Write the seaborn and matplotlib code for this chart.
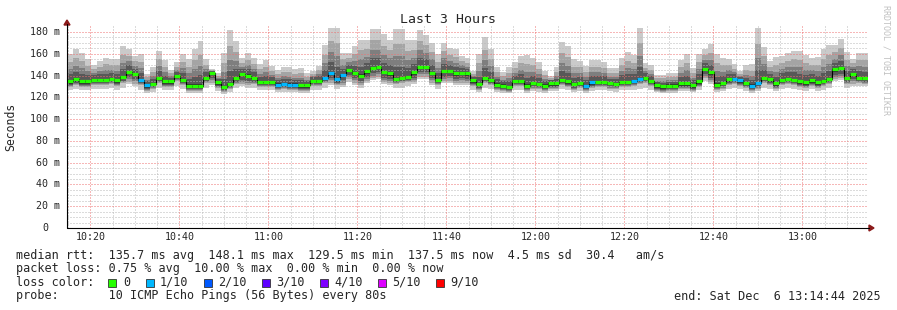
import numpy as np
import matplotlib
matplotlib.use("Agg")
import matplotlib.pyplot as plt
import seaborn as sns
import pandas as pd
from matplotlib.patches import Rectangle, Polygon
from matplotlib.lines import Line2D

# ---------------- data ----------------
STEP_S = 80  # one RRD step = 80 s
START = "10:14:44"

median = [134.6, 136.5, 134.6, 134.6, 136.0, 136.0, 136.0, 137.0, 135.5, 138.4,
          143.5, 141.6, 136.0, 131.0, 132.4, 137.8, 134.6, 134.6, 139.7, 136.0,
          130.8, 130.8, 130.8, 138.0, 142.5, 133.7, 129.5, 132.4, 137.5, 141.3,
          140.0, 137.5, 134.3, 134.3, 134.3, 131.7, 132.4, 131.7, 131.7, 131.0,
          131.0, 135.2, 135.2, 138.0, 142.5, 136.5, 140.6, 145.4, 142.5, 140.0,
          143.8, 147.0, 148.0, 143.0, 142.0, 136.8, 137.8, 138.7, 142.8, 148.0,
          148.0, 142.5, 136.0, 144.0, 144.4, 142.0, 142.5, 142.0, 135.5, 132.0,
          138.0, 136.0, 131.7, 130.8, 129.8, 135.0, 135.0, 130.8, 133.0, 132.4,
          130.8, 132.7, 132.7, 135.9, 134.6, 132.0, 133.3, 130.5, 133.7, 134.3,
          134.3, 133.0, 132.4, 134.3, 134.3, 135.0, 136.8, 138.0, 135.0, 131.0,
          130.0, 130.8, 130.8, 132.7, 132.7, 131.0, 134.6, 146.3, 142.8, 131.7,
          133.0, 136.5, 137.0, 135.5, 133.3, 130.8, 133.0, 138.0, 136.5, 132.7,
          136.0, 136.8, 136.0, 134.6, 133.7, 135.5, 133.7, 135.0, 136.8, 145.7,
          146.7, 137.5, 141.6, 138.0, 137.5]

# number of lost pings (of 10) per step
lost = [0]*12 + [1, 1] + [0]*21 + [1, 1, 1, 1] + [0]*4 + [1, 1, 1, 1] + [0]*40 + \
       [1, 1] + [0]*6 + [1, 1] + [0]*15 + [1, 1, 0, 1, 1] + [0]*18

# ping rtts per step (smoke): p10 = slowest ... p1 = fastest
p10 = [160, 164.8, 161, 155, 150, 153.4, 156.4, 155, 155.5, 167.5,
       164.8, 158, 159.4, 141.5, 148, 163, 154, 145, 152, 159.4,
       155.5, 164, 171.3, 155, 146, 142, 160.3, 181.8, 172, 155.8,
       161, 156.4, 150.4, 154, 148.4, 145, 148, 147.5, 146, 146.6,
       142, 144.5, 149, 167.8, 184, 184, 161, 161, 167, 173,
       173, 183, 183, 178, 173, 183, 183, 173, 173, 182,
       177, 170, 160, 170, 165, 164, 158, 156, 144.5, 159.4,
       175, 164, 147.5, 143, 147.5, 152, 158, 159, 156.4, 152,
       144.5, 140, 147.5, 170.7, 167, 155, 153.4, 149, 154, 154,
       152, 146.6, 146.6, 156.4, 161.8, 158.8, 184, 151.3, 149.5, 140.6,
       140.6, 142, 142, 154, 159.4, 146.6, 160, 164.8, 169, 160,
       156.4, 155.5, 150.4, 144.5, 149.9, 150.4, 184, 166, 153.4, 157,
       158, 161, 163, 163, 158.8, 156.4, 157, 164, 167.8, 167.8,
       173.7, 161.8, 155.5, 161, 161]

p9 = [152.4, 156.3, 153.1, 148.9, 145.8, 148.2, 150.3, 149.6, 149.5, 158.8,
      158.4, 153.1, 152.4, 138.4, 143.3, 155.4, 148.2, 141.9, 148.3, 152.4,
      148.1, 154.0, 159.2, 149.9, 145.0, 139.5, 151.1, 167.0, 161.7, 151.5,
      154.7, 150.7, 145.6, 148.1, 144.2, 141.0, 143.3, 142.8, 141.7, 141.9,
      138.7, 141.7, 144.9, 158.9, 171.6, 169.8, 154.9, 156.3, 159.7, 163.1,
      164.2, 172.2, 172.5, 167.5, 163.7, 169.1, 169.4, 162.7, 163.9, 171.8,
      168.3, 161.8, 152.8, 162.2, 158.8, 157.4, 153.4, 151.8, 141.8, 151.2,
      163.9, 155.6, 142.8, 139.3, 142.2, 146.9, 151.1, 150.5, 149.4, 146.1,
      140.4, 137.8, 143.1, 160.3, 157.3, 148.1, 147.4, 143.5, 147.9, 148.1,
      146.7, 142.5, 142.3, 149.8, 153.6, 151.7, 169.8, 147.3, 145.2, 137.7,
      137.4, 138.6, 138.6, 147.6, 151.4, 141.9, 152.4, 159.3, 161.1, 151.5,
      149.4, 149.8, 146.4, 141.8, 144.9, 144.5, 168.7, 157.6, 148.3, 149.7,
      151.4, 153.7, 154.9, 154.5, 151.3, 150.1, 150.0, 155.3, 158.5, 161.2,
      165.6, 154.5, 151.3, 154.1, 154.0]

p8 = [146.0, 149.2, 146.5, 143.8, 142.3, 143.8, 145.2, 145.1, 144.5, 151.5,
      153.1, 149.0, 146.5, 135.7, 139.4, 149.1, 143.3, 139.3, 145.2, 146.5,
      141.9, 145.7, 149.0, 145.7, 144.1, 137.4, 143.4, 154.6, 153.0, 147.8,
      149.5, 146.0, 141.5, 143.2, 140.6, 137.7, 139.4, 138.8, 138.1, 138.0,
      136.0, 139.4, 141.4, 151.4, 161.2, 157.9, 149.8, 152.4, 153.5, 154.9,
      157.0, 163.2, 163.8, 158.8, 156.0, 157.6, 158.1, 154.1, 156.4, 163.3,
      161.1, 154.9, 146.8, 155.7, 153.7, 151.9, 149.5, 148.3, 139.6, 144.3,
      154.7, 148.6, 138.8, 136.3, 137.8, 142.7, 145.4, 143.5, 143.5, 141.2,
      137.0, 136.0, 139.4, 151.6, 149.2, 142.4, 142.3, 138.8, 142.8, 143.2,
      142.3, 139.1, 138.8, 144.2, 146.7, 145.7, 158.0, 144.0, 141.5, 135.3,
      134.8, 135.8, 135.8, 142.3, 144.7, 138.0, 146.0, 154.6, 154.6, 144.4,
      143.5, 145.1, 143.0, 139.6, 140.8, 139.6, 156.0, 150.6, 144.1, 143.6,
      145.9, 147.7, 148.2, 147.4, 145.0, 144.9, 144.2, 148.1, 150.8, 155.6,
      158.9, 148.4, 147.9, 148.4, 148.1]

p7 = [141.2, 143.7, 141.4, 140.2, 140.3, 141.0, 141.6, 142.1, 141.0, 145.7,
      149.3, 146.4, 142.2, 134.6, 137.0, 144.3, 140.0, 138.2, 143.7, 142.2,
      137.2, 138.9, 140.4, 142.9, 144.0, 136.9, 137.2, 143.8, 145.9, 145.7,
      145.7, 142.8, 139.0, 139.7, 138.6, 135.9, 137.0, 136.4, 136.1, 135.6,
      134.7, 138.6, 139.5, 145.5, 152.3, 147.5, 146.2, 150.0, 148.9, 148.1,
      151.1, 155.7, 156.5, 151.5, 149.7, 147.5, 148.3, 147.1, 150.3, 156.3,
      155.3, 149.5, 142.3, 150.7, 150.0, 147.9, 147.1, 146.3, 138.8, 139.0,
      146.9, 143.1, 136.4, 134.7, 134.8, 139.9, 141.1, 137.9, 139.2, 137.8,
      135.0, 135.7, 137.2, 144.4, 142.6, 138.1, 138.8, 135.7, 139.3, 139.7,
      139.3, 137.2, 136.7, 140.2, 141.3, 141.3, 147.7, 142.2, 139.4, 134.4,
      133.6, 134.5, 134.5, 138.5, 139.5, 135.6, 141.2, 151.5, 149.5, 138.9,
      139.2, 141.8, 141.2, 138.8, 138.1, 136.2, 144.7, 145.1, 141.4, 139.1,
      141.9, 143.1, 142.9, 141.8, 140.2, 141.2, 139.9, 142.3, 144.5, 151.6,
      153.6, 143.9, 146.4, 144.1, 143.7]

p6 = [135.6, 137.5, 135.6, 135.6, 137, 137, 137, 138, 136.5, 139.4,
      144.5, 142.6, 137, 132, 133.4, 138.8, 135.6, 135.6, 140.7, 137,
      131.8, 131.8, 131.8, 139, 143.5, 134.7, 130.5, 133.4, 138.5, 142.3,
      141, 138.5, 135.3, 135.3, 135.3, 132.7, 133.4, 132.7, 132.7, 132,
      132, 136.2, 136.2, 139, 143.5, 137.5, 141.6, 146.4, 143.5, 141,
      144.8, 148, 149, 144, 143, 137.8, 138.8, 139.7, 143.8, 149,
      149, 143.5, 137, 145, 145.4, 143, 143.5, 143, 136.5, 133,
      139, 137, 132.7, 131.8, 130.8, 136, 136, 131.8, 134, 133.4,
      131.8, 133.7, 133.7, 136.9, 135.6, 133, 134.3, 131.5, 134.7, 135.3,
      135.3, 134, 133.4, 135.3, 135.3, 136, 137.8, 139, 136, 132,
      131, 131.8, 131.8, 133.7, 133.7, 132, 135.6, 147.3, 143.8, 132.7,
      134, 137.5, 138, 136.5, 134.3, 131.8, 134, 139, 137.5, 133.7,
      137, 137.8, 137, 135.6, 134.7, 136.5, 134.7, 136, 137.8, 146.7,
      147.7, 138.5, 142.6, 139, 138.5]

p5 = [132.6, 134.5, 132.6, 132.6, 134, 134, 134, 135, 133.5, 136.4,
      141.5, 139.6, 134, 129, 130.4, 135.8, 132.6, 132.6, 137.7, 134,
      128.8, 128.8, 128.8, 136, 140.5, 131.7, 127.5, 130.4, 135.5, 139.3,
      138, 135.5, 132.3, 132.3, 132.3, 129.7, 130.4, 129.7, 129.7, 129,
      129, 133.2, 133.2, 136, 140.5, 134.5, 138.6, 143.4, 140.5, 138,
      141.8, 145, 146, 141, 140, 134.8, 135.8, 136.7, 140.8, 146,
      146, 140.5, 134, 142, 142.4, 140, 140.5, 140, 133.5, 130,
      136, 134, 129.7, 128.8, 127.8, 133, 133, 128.8, 131, 130.4,
      128.8, 130.7, 130.7, 133.9, 132.6, 130, 131.3, 128.5, 131.7, 132.3,
      132.3, 131, 130.4, 132.3, 132.3, 133, 134.8, 136, 133, 129,
      128, 128.8, 128.8, 130.7, 130.7, 129, 132.6, 144.3, 140.8, 129.7,
      131, 134.5, 135, 133.5, 131.3, 128.8, 131, 136, 134.5, 130.7,
      134, 134.8, 134, 132.6, 131.7, 133.5, 131.7, 133, 134.8, 143.7,
      144.7, 135.5, 139.6, 136, 135.5]

p4 = [131.6, 133.5, 131.6, 131.6, 133, 133, 133, 134, 132.5, 135.4,
      138.5, 136.6, 133, 128, 129.4, 134.8, 131.6, 131.6, 136.7, 133,
      127.8, 127.8, 127.8, 135, 137.5, 130.7, 126.5, 129.4, 134.5, 136.3,
      135, 134.5, 131.3, 131.3, 131.3, 128.7, 129.4, 128.7, 128.7, 128,
      128, 132.2, 132.2, 135, 137.5, 133.5, 135.6, 140.4, 137.5, 135,
      138.8, 142, 143, 138, 137, 133.8, 134.8, 135.7, 137.8, 143,
      143, 137.5, 133, 139, 139.4, 137, 137.5, 137, 132.5, 129,
      135, 133, 128.7, 127.8, 126.8, 132, 132, 127.8, 130, 129.4,
      127.8, 129.7, 129.7, 132.9, 131.6, 129, 130.3, 127.5, 130.7, 131.3,
      131.3, 130, 129.4, 131.3, 131.3, 132, 133.8, 135, 132, 128,
      127, 127.8, 127.8, 129.7, 129.7, 128, 131.6, 141.3, 137.8, 128.7,
      130, 133.5, 134, 132.5, 130.3, 127.8, 130, 135, 133.5, 129.7,
      133, 133.8, 133, 131.6, 130.7, 132.5, 130.7, 132, 133.8, 140.7,
      141.7, 134.5, 136.6, 135, 134.5]

p3 = [130.6, 132.5, 130.6, 130.6, 132, 132, 132, 133, 131.5, 134.4,
      136.5, 134.6, 132, 127, 128.4, 133.8, 130.6, 130.6, 135.7, 132,
      126.8, 126.8, 126.8, 134, 135.5, 129.7, 125.5, 128.4, 133.5, 134.3,
      133, 133.5, 130.3, 130.3, 130.3, 127.7, 128.4, 127.7, 127.7, 127,
      127, 131.2, 131.2, 134, 135.5, 132.5, 133.6, 138.4, 135.5, 133,
      136.8, 140, 141, 136, 135, 132.8, 133.8, 134.7, 135.8, 141,
      141, 135.5, 132, 137, 137.4, 135, 135.5, 135, 131.5, 128,
      134, 132, 127.7, 126.8, 125.8, 131, 131, 126.8, 129, 128.4,
      126.8, 128.7, 128.7, 131.9, 130.6, 128, 129.3, 126.5, 129.7, 130.3,
      130.3, 129, 128.4, 130.3, 130.3, 131, 132.8, 134, 131, 127,
      126, 126.8, 126.8, 128.7, 128.7, 127, 130.6, 139.3, 135.8, 127.7,
      129, 132.5, 133, 131.5, 129.3, 126.8, 129, 134, 132.5, 128.7,
      132, 132.8, 132, 130.6, 129.7, 131.5, 129.7, 131, 132.8, 138.7,
      139.7, 133.5, 134.6, 134, 133.5]

p2 = [129.6, 131.5, 129.6, 129.6, 131, 131, 131, 132, 130.5, 133.4,
      134.5, 132.6, 131, 126, 127.4, 132.8, 129.6, 129.6, 134.7, 131,
      125.8, 125.8, 125.8, 133, 133.5, 128.7, 124.5, 127.4, 132.5, 132.3,
      131, 132.5, 129.3, 129.3, 129.3, 126.7, 127.4, 126.7, 126.7, 126,
      126, 130.2, 130.2, 133, 133.5, 131.5, 131.6, 136.4, 133.5, 131,
      134.8, 138, 139, 134, 133, 131.8, 132.8, 133.7, 133.8, 139,
      139, 133.5, 131, 135, 135.4, 133, 133.5, 133, 130.5, 127,
      133, 131, 126.7, 125.8, 124.8, 130, 130, 125.8, 128, 127.4,
      125.8, 127.7, 127.7, 130.9, 129.6, 127, 128.3, 125.5, 128.7, 129.3,
      129.3, 128, 127.4, 129.3, 129.3, 130, 131.8, 133, 130, 126,
      125, 125.8, 125.8, 127.7, 127.7, 126, 129.6, 137.3, 133.8, 126.7,
      128, 131.5, 132, 130.5, 128.3, 125.8, 128, 133, 131.5, 127.7,
      131, 131.8, 131, 129.6, 128.7, 130.5, 128.7, 130, 131.8, 136.7,
      137.7, 132.5, 132.6, 133, 132.5]

p1 = [127, 128, 127, 127, 128, 128, 128, 129, 127, 129, 132.5, 130.6, 127, 124, 125,
      129, 127, 127, 130, 128, 124, 124, 124, 129, 131.5, 126, 123, 125, 129, 130.3,
      129, 129, 127, 127, 127, 125, 125, 125, 125, 124, 124, 127, 127, 129, 131.5,
      128, 129.6, 134, 131.5, 129, 132.8, 136, 137, 132, 131, 129, 129, 130, 131.8, 137,
      137, 131.5, 128, 133, 133.4, 131, 131.5, 131, 127, 125, 129, 128, 125, 124, 124,
      127, 127, 124, 126, 125, 124, 126, 126, 128, 127, 125, 126, 124, 126, 127,
      127, 126, 125, 127, 127, 127, 128, 129, 127, 125, 124, 124, 124, 126, 126,
      125, 127, 135, 131.8, 125, 126, 128, 129, 128, 126, 124, 126, 129, 128, 126,
      128, 129, 128, 127, 126, 128, 126, 127, 129, 134.7, 135.7, 129, 130.6, 130, 130]

x_tick_labels = ["10:20", "10:40", "11:00", "11:20", "11:40", "12:00", "12:20", "12:40", "13:00"]
y_ticks = [0, 20, 40, 60, 80, 100, 120, 140, 160, 180]

loss_levels = ["0", "1/10", "2/10", "3/10", "4/10", "5/10", "9/10"]
loss_colors = ["#26ff00", "#00b8ff", "#0059ff", "#5e00ff", "#7e00ff", "#dd00ff", "#ff0000"]
smoke_colors = ["#cacaca", "#a4a4a4", "#7e7e7e", "#585858", "#323232"]

stats_line = "median rtt:  135.7 ms avg  148.1 ms max  129.5 ms min  137.5 ms now  4.5 ms sd  30.4   am/s"
loss_line = "packet loss: 0.75 % avg  10.00 % max  0.00 % min  0.00 % now"
probe_line = "probe:       10 ICMP Echo Pings (56 Bytes) every 80s"
end_line = "end: Sat Dec  6 13:14:44 2025"

# ---------------- figure ----------------
sns.set_theme(style="white")
plt.rcParams["font.family"] = ["DejaVu Sans Mono", "DejaVu Sans"]
W, H = 897, 310
fig = plt.figure(figsize=(W / 100, H / 100), dpi=100)
fig.patch.set_facecolor("white")


def fx(px):
    return px / W


def fy(py):
    return 1 - py / H


ax = fig.add_axes([fx(67), fy(228), fx(868) - fx(67), fy(26) - fy(228)])
ax.set_facecolor("white")

n = len(median)
edges = np.arange(n + 1) * STEP_S


def ext(a):
    a = np.asarray(a, float)
    return np.append(a, a[-1])


pings = np.sort(np.array([p1, p2, p3, p4, p5, p6, p7, p8, p9, p10], float), axis=0)
for i, col in enumerate(smoke_colors):
    ax.fill_between(edges, ext(pings[i]), ext(pings[9 - i]), step="post",
                    color=col, lw=0, zorder=1 + i * 0.01)

# grid (drawn over the smoke, as rrdtool does)
h0, m0, s0 = map(int, START.split(":"))
t0 = h0 * 3600 + m0 * 60 + s0
major_x = [int(l[:2]) * 3600 + int(l[3:]) * 60 - t0 for l in x_tick_labels]
first_minor = (10 * 3600 + 15 * 60) - t0
minor_x = [first_minor + 300 * k for k in range(40) if first_minor + 300 * k < n * STEP_S]
minor_y = [v for v in range(5, 185, 5) if v % 20]

dots = (0, (1, 2))
for v in minor_y:
    ax.axhline(v, color="#b8b8b8", lw=0.72, ls=dots, zorder=2)
for v in minor_x:
    if v not in major_x:
        ax.axvline(v, color="#b8b8b8", lw=0.72, ls=dots, zorder=2)
for v in y_ticks[1:]:
    ax.axhline(v, color="#ee7070", lw=0.72, ls=dots, zorder=2.5)
for v in major_x:
    ax.axvline(v, color="#ee7070", lw=0.72, ls=dots, zorder=2.5)

# median: black connector + loss-coloured segments
df = pd.DataFrame({"t": edges, "rtt": ext(median)})
sns.lineplot(data=df, x="t", y="rtt", drawstyle="steps-post", color="black",
             lw=0.8, estimator=None, ax=ax, zorder=4)
seg_colors = [loss_colors[k] for k in lost]
ax.hlines(median, edges[:-1], edges[1:], colors=seg_colors, lw=2.3,
          zorder=5, capstyle="butt")

ax.set_xlim(0, n * STEP_S)
ax.set_ylim(0, 185.5)

for s in ax.spines.values():
    s.set_visible(False)
ax.set_xticks(major_x)
ax.set_xticklabels(x_tick_labels, fontsize=7.2)
ax.set_yticks([])
ax.tick_params(axis="x", length=0, pad=3)
ax.set_xlabel("")
ax.set_ylabel("")

for v in y_ticks:
    lbl = f"{v} m" if v else "0"
    off = -7 if v else -19
    ax.annotate(lbl, xy=(0, v), xycoords=("axes fraction", "data"),
                xytext=(off, 0), textcoords="offset pixels",
                ha="right", va="center", fontsize=7.2)

# axes lines with arrows
fig.add_artist(Line2D([fx(67), fx(869)], [fy(228), fy(228)], color="black", lw=0.8))
fig.add_artist(Line2D([fx(67), fx(67)], [fy(228), fy(24)], color="black", lw=0.8))
fig.add_artist(Polygon([[fx(869), fy(225)], [fx(874), fy(228)], [fx(869), fy(231)]],
                       closed=True, color="#8b1a1a", transform=fig.transFigure))
fig.add_artist(Polygon([[fx(64), fy(25)], [fx(67), fy(20)], [fx(70), fy(25)]],
                       closed=True, color="#8b1a1a", transform=fig.transFigure))

# titles
fig.text(fx(448), fy(19.5), "Last 3 Hours", ha="center", va="center", fontsize=9.5)
fig.text(fx(11), fy(127), "Seconds", ha="center", va="center", rotation=90, fontsize=8.3)
fig.text(fx(886), fy(5), "RRDTOOL / TOBI OETIKER", ha="center", va="top",
         rotation=270, fontsize=6, color="#c0c0c0")

# legend
fs = 8.5
fig.text(fx(16), fy(255), stats_line, ha="left", va="center", fontsize=fs)
fig.text(fx(16), fy(268.5), loss_line, ha="left", va="center", fontsize=fs)
fig.text(fx(16), fy(282), "loss color:", ha="left", va="center", fontsize=fs)
for i, (lab, col) in enumerate(zip(loss_levels, loss_colors)):
    if i == 0:
        sx, tx = 108, 123
    else:
        sx = 145.5 + 58 * (i - 1)
        tx = 160 + 58 * (i - 1)
    fig.add_artist(Rectangle((fx(sx), fy(286.5)), 8 / W, 8 / H, transform=fig.transFigure,
                             facecolor=col, edgecolor="#333333", lw=0.6))
    fig.text(fx(tx), fy(282), lab, ha="left", va="center", fontsize=fs)
fig.text(fx(16), fy(296), probe_line, ha="left", va="center", fontsize=fs)
fig.text(fx(881), fy(296), end_line, ha="right", va="center", fontsize=fs)

fig.savefig("out.png", dpi=100, facecolor="white")
